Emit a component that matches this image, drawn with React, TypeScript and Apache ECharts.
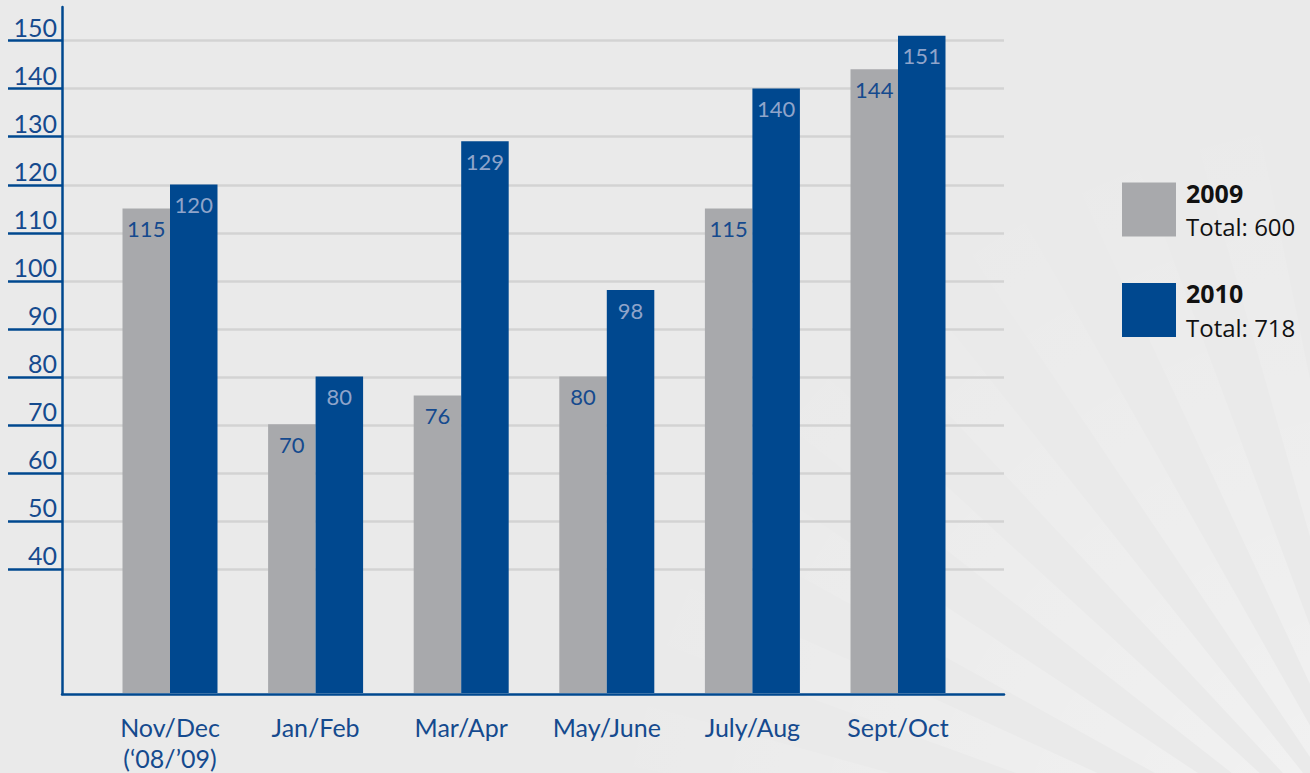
import React, { useEffect, useRef } from "react";
import * as echarts from "echarts";

const categories = ["Nov/Dec\n(‘08/’09)", "Jan/Feb", "Mar/Apr", "May/June", "July/Aug", "Sept/Oct"];
const values2009 = [115, 70, 76, 80, 115, 144];
const values2010 = [120, 80, 129, 98, 140, 151];
const seriesNames = ["2009", "2010"];
const totals = [600, 718];
const tickValues = [40, 50, 60, 70, 80, 90, 100, 110, 120, 130, 140, 150];
const yMin = 14;
const yMax = 157;

const BLUE = "#00488f";
const GRAY = "#a8a9ac";
const TEXT_BLUE = "#154a8e";
const FONT = "Lato, 'Open Sans', sans-serif";
const LEGEND_FONT = "'Open Sans', Lato, sans-serif";

function buildRays() {
  const cx = 1420;
  const cy = 920;
  const r = 1100;
  const out: any[] = [];
  const fill = new echarts.graphic.RadialGradient(cx, cy, 850, [
    { offset: 0, color: "rgba(255,255,255,0.45)" },
    { offset: 0.4, color: "rgba(255,255,255,0.25)" },
    { offset: 1, color: "rgba(255,255,255,0)" },
  ], true);
  for (let a = 182; a < 272; a += 9) {
    const a1 = (a * Math.PI) / 180;
    const a2 = ((a + 4.5) * Math.PI) / 180;
    out.push({
      type: "polygon",
      silent: true,
      z: -10,
      shape: {
        points: [
          [cx, cy],
          [cx + r * Math.cos(a1), cy + r * Math.sin(a1)],
          [cx + r * Math.cos(a2), cy + r * Math.sin(a2)],
        ],
      },
      style: { fill },
    });
  }
  return out;
}

export default function App() {
  const ref = useRef<HTMLDivElement>(null);
  useEffect(() => {
    if (!ref.current) return;
    document.body.style.margin = "0";
    const chart = echarts.init(ref.current, null, { renderer: "svg" });
    const option: any = {
      animation: false,
      backgroundColor: "#eaeaea",
      textStyle: { fontFamily: FONT },
      graphic: buildRays(),
      legend: {
        orient: "vertical",
        left: 1122,
        top: 180,
        padding: 0,
        itemWidth: 54,
        itemHeight: 54,
        itemGap: 42,
        icon: "rect",
        data: seriesNames,
        selectedMode: false,
        formatter: (name: string) => {
          const i = seriesNames.indexOf(name);
          return `{b|${name}}\n{t|Total: ${totals[i]}}`;
        },
        textStyle: {
          padding: [0, 0, 0, 5],
          rich: {
            b: { fontFamily: LEGEND_FONT, fontWeight: "bold", fontSize: 25, lineHeight: 34, color: "#111" },
            t: { fontFamily: LEGEND_FONT, fontSize: 24, lineHeight: 34, color: "#111" },
          },
        },
      },
      grid: [
        { left: 62, right: 306, top: 7, bottom: 79, containLabel: false },
        { left: 97.2, right: 339.2, top: 7, bottom: 79, containLabel: false },
      ],
      xAxis: [
        {
          type: "value",
          gridIndex: 0,
          min: 0,
          max: 1,
          axisLine: { show: true, lineStyle: { color: BLUE, width: 2.5 } },
          axisTick: { show: false },
          axisLabel: { show: false },
          splitLine: { show: false },
        },
        {
          type: "category",
          gridIndex: 1,
          data: categories,
          axisLine: { show: false },
          axisTick: { show: false },
          axisLabel: {
            color: TEXT_BLUE,
            fontFamily: FONT,
            fontSize: 25,
            lineHeight: 31,
            margin: 18,
            interval: 0,
          },
        },
      ],
      yAxis: [
        {
          type: "value",
          gridIndex: 0,
          min: yMin,
          max: yMax,
          axisLine: { show: true, lineStyle: { color: BLUE, width: 2.5 } },
          axisTick: {
            show: true,
            inside: false,
            length: 54,
            customValues: tickValues,
            lineStyle: { color: BLUE, width: 2.5 },
          },
          axisLabel: {
            show: true,
            customValues: tickValues,
            color: TEXT_BLUE,
            fontFamily: FONT,
            fontSize: 25,
            margin: 5,
            verticalAlign: "bottom",
            lineHeight: 28,
          },
          splitLine: { show: true, lineStyle: { color: "#d3d3d3", width: 2.5 } },
        },
        {
          type: "value",
          gridIndex: 1,
          min: yMin,
          max: yMax,
          show: false,
          splitLine: { show: false },
        },
      ],
      series: [
        {
          name: seriesNames[0],
          type: "bar",
          xAxisIndex: 1,
          yAxisIndex: 1,
          data: values2009,
          barWidth: 47.5,
          barGap: "0%",
          itemStyle: { color: GRAY },
          label: {
            show: true,
            position: "insideTop",
            distance: 9,
            color: TEXT_BLUE,
            fontFamily: FONT,
            fontSize: 22,
          },
        },
        {
          name: seriesNames[1],
          type: "bar",
          xAxisIndex: 1,
          yAxisIndex: 1,
          data: values2010,
          barWidth: 47.5,
          barGap: "0%",
          itemStyle: { color: BLUE },
          label: {
            show: true,
            position: "insideTop",
            distance: 9,
            color: "#8fa4ca",
            fontFamily: FONT,
            fontSize: 22,
          },
        },
      ],
    };
    chart.setOption(option);
    return () => chart.dispose();
  }, []);
  return (
    <div
      ref={ref}
      style={{ position: "fixed", left: 0, top: 0, width: 1310, height: 773 }}
    />
  );
}
